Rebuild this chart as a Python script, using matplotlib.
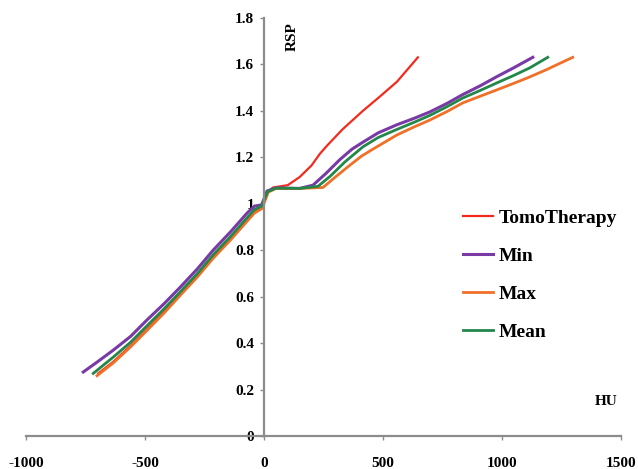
import matplotlib
matplotlib.use("Agg")
import matplotlib.pyplot as plt

plt.rcParams["axes.unicode_minus"] = False
plt.rcParams["font.family"] = ["Liberation Serif", "DejaVu Serif"]

# HU -> RSP calibration curves
tomo_hu = [-697, -634, -560, -492, -420, -353, -280, -214, -140, -71, -40, -8, 15, 38, 100, 150, 200, 235, 265, 330, 416, 480, 559, 647]
tomo_rsp = [0.27, 0.32, 0.39, 0.46, 0.535, 0.61, 0.69, 0.77, 0.85, 0.93, 0.965, 0.985, 1.05, 1.07, 1.08, 1.115, 1.165, 1.215, 1.25, 1.32, 1.40, 1.455, 1.525, 1.63]

min_hu = [-760, -700, -634, -560, -492, -420, -353, -280, -214, -140, -71, -40, -10, 13, 50, 150, 206, 260, 319, 370, 416, 480, 559, 630, 697, 770, 836, 910, 979, 1050, 1130]
min_rsp = [0.276, 0.32, 0.37, 0.43, 0.50, 0.57, 0.64, 0.72, 0.80, 0.88, 0.96, 0.99, 0.995, 1.055, 1.068, 1.066, 1.08, 1.13, 1.19, 1.235, 1.265, 1.305, 1.34, 1.367, 1.395, 1.432, 1.47, 1.508, 1.547, 1.585, 1.63]

max_hu = [-702, -634, -560, -492, -420, -353, -280, -214, -140, -71, -40, -8, 18, 50, 150, 248, 300, 360, 410, 458, 559, 630, 697, 770, 836, 910, 979, 1050, 1118, 1190, 1256, 1298]
max_rsp = [0.26, 0.315, 0.385, 0.455, 0.53, 0.605, 0.685, 0.765, 0.845, 0.925, 0.96, 0.98, 1.05, 1.066, 1.066, 1.07, 1.115, 1.165, 1.205, 1.235, 1.296, 1.33, 1.36, 1.397, 1.434, 1.463, 1.49, 1.518, 1.546, 1.578, 1.61, 1.63]

mean_hu = [-718, -634, -560, -492, -420, -353, -280, -214, -140, -71, -40, -10, 15, 50, 150, 227, 280, 340, 416, 480, 559, 630, 697, 770, 836, 910, 979, 1050, 1118, 1193]
mean_rsp = [0.27, 0.34, 0.405, 0.475, 0.548, 0.62, 0.70, 0.78, 0.86, 0.94, 0.975, 0.99, 1.052, 1.067, 1.066, 1.075, 1.12, 1.18, 1.245, 1.285, 1.32, 1.35, 1.38, 1.418, 1.455, 1.488, 1.52, 1.552, 1.585, 1.63]

x_ticks = [-1000, -500, 0, 500, 1000, 1500]
y_ticks = [0, 0.2, 0.4, 0.6, 0.8, 1.0, 1.2, 1.4, 1.6, 1.8]
y_tick_labels = ["0", "0.2", "0.4", "0.6", "0.8", "1", "1.2", "1.4", "1.6", "1.8"]

fig = plt.figure(figsize=(6.38, 4.69), dpi=100)
ax = fig.add_axes([0.041, 0.070, 0.932, 0.892])

ax.plot(tomo_hu, tomo_rsp, color="#f42a1e", lw=1.6, label="TomoTherapy")
ax.plot(min_hu, min_rsp, color="#7a3aa6", lw=2.2, label="Min")
ax.plot(max_hu, max_rsp, color="#f07028", lw=2.0, label="Max")
ax.plot(mean_hu, mean_rsp, color="#23874a", lw=2.0, label="Mean")

ax.set_xlim(-1000, 1500)
ax.set_ylim(0, 1.8)

axis_grey = "#8c8c8c"
ax.spines["left"].set_position(("data", 0))
ax.spines["right"].set_visible(False)
ax.spines["top"].set_visible(False)
ax.spines["left"].set_color(axis_grey)
ax.spines["bottom"].set_color(axis_grey)
ax.spines["left"].set_linewidth(1.6)
ax.spines["bottom"].set_linewidth(1.6)

ax.set_xticks(x_ticks)
ax.set_yticks(y_ticks)
ax.set_yticklabels(y_tick_labels)
ax.tick_params(axis="both", direction="out", length=3, width=1, color=axis_grey,
               labelsize=11, pad=4)
ax.tick_params(axis="x", pad=12)
for lab in ax.get_xticklabels() + ax.get_yticklabels():
    lab.set_fontweight("bold")

ax.text(118, 1.78, "RSP", rotation=90, ha="center", va="top",
        fontsize=11, fontweight="bold")
ax.text(1440, 0.15, "HU", ha="center", va="center",
        fontsize=11, fontweight="bold")

leg = ax.legend(loc="upper left", bbox_to_anchor=(0.705, 0.585), frameon=False,
                handlelength=1.55, handletextpad=0.3, labelspacing=1.05,
                prop={"family": ["Liberation Serif"], "weight": "bold", "size": 14})

fig.savefig("out.png", dpi=100)
